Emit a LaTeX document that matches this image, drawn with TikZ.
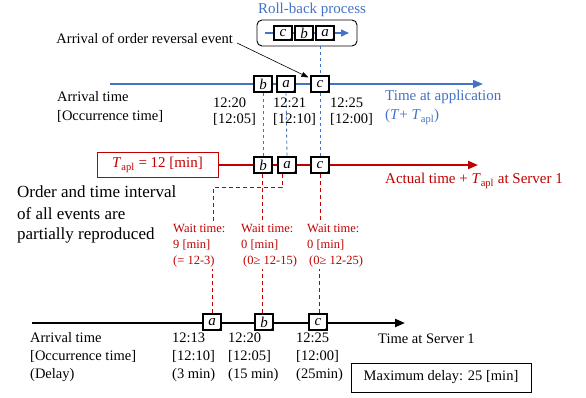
\documentclass[tikz,border=0pt]{standalone}
\usepackage{fontspec}
\setmainfont{Liberation Serif}
\usetikzlibrary{arrows.meta}
\definecolor{myblue}{RGB}{68,114,196}
\definecolor{myred}{RGB}{192,0,0}
\begin{document}
\begin{tikzpicture}[x=1pt,y=-1pt,
  evt/.style={draw, line width=1.1pt, fill=white, minimum width=18pt, minimum height=16pt, inner sep=0pt, font=\fontsize{15}{15}\selectfont\itshape},
  sevt/.style={evt, minimum height=14pt},
  lbl/.style={anchor=base west, inner sep=0pt, font=\fontsize{14.5}{17}\selectfont},
  wlbl/.style={anchor=base west, inner sep=0pt, font=\fontsize{12.5}{15}\selectfont, text=myred},
  bdash/.style={myblue, line width=0.9pt, dash pattern=on 3pt off 3pt},
  rdash/.style={myred, line width=0.9pt, dash pattern=on 4pt off 3pt},
  tip/.style={-{Triangle[length=10pt,width=8pt]}},
]
\useasboundingbox (0,0) rectangle (586,398);

% ---------- roll-back process ----------
\node[anchor=base, inner sep=0pt, font=\fontsize{15}{17}\selectfont, text=myblue] (rbt) at (312,14) {Roll-back process};
\node[draw, rounded corners=5pt, line width=0.9pt, minimum width=100pt, minimum height=26pt, inner sep=0pt] (rbox) at (307,33) {};
\coordinate (rbs) at (265,33);
\coordinate (rbe) at (349,33);
\draw[myblue, line width=1.5pt, -{Triangle[length=8pt,width=7pt]}] (rbs) -- (rbe);
\node[sevt] (rbc) at (283,33) {c};
\node[sevt] (rbb) at (304,33) {b};
\node[sevt] (rba) at (325,33) {a};

% ---------- blue line ----------
\coordinate (bs) at (110,84);
\coordinate (be) at (483,84);
\draw[myblue, line width=1.5pt, tip] (bs) -- (be);

% ---------- red line ----------
\node[draw=myred, line width=1pt, minimum width=121pt, minimum height=25pt, inner sep=0pt, text=myred, font=\fontsize{15}{17}\selectfont] (tbox) at (157.5,165) {\textit{T}\textsubscript{apl} = 12 [min]};
\coordinate (re) at (478,165);
\draw[myred, line width=2pt, tip] (tbox.east) -- (re);

% ---------- black line ----------
\coordinate (ks) at (32,323);
\coordinate (ke) at (405,323);
\draw[line width=2.2pt, tip] (ks) -- (ke);

% ---------- event boxes ----------
\node[evt] (bb) at (263,84) {b};
\node[evt] (ba) at (286,84) {a};
\node[evt] (bc) at (320,84) {c};
\node[evt] (rb) at (263,165) {b};
\node[evt] (ra) at (287,165) {a};
\node[evt] (rc) at (320,165) {c};
\node[evt] (ka) at (212,322) {a};
\node[evt] (kb) at (264,322) {b};
\node[evt] (kc) at (318,322) {c};

% blue dashed links
\draw[bdash] (bc |- rbox.south) -- (bc.north);
\draw[bdash] (bc.south) -- (rc.north);
\draw[bdash] (bb.south) -- (rb.north);
\draw[bdash] (ba.south) -- (ra.north);

% red dashed links
\coordinate (w1) at (213,222);
\draw[rdash] ([xshift=-5pt]ra.south) -- ++(0,14) -| (w1);
\draw[rdash] ([xshift=-1pt]rb.south) -- ++(0,49);
\draw[rdash] (rc.south) -- ++(0,49);
\draw[rdash] (ka.north) -- ++(0,-44);
\draw[rdash] ([xshift=-2pt]kb.north) -- ++(0,-44);
\draw[rdash] ([xshift=1pt]kc.north) -- ++(0,-44);

% folded corners
\foreach \n in {rbc,rbb,rba,bb,ba,bc,rb,ra,rc,ka,kb,kc}{
  \fill (\n.south east) -- ++(-4,0) -- ++(4,-4) -- cycle;
}

% leader
\node[anchor=base east, inner sep=0pt, font=\fontsize{14.5}{17}\selectfont] (arr) at (233,44) {Arrival of order reversal event};
\coordinate (ld) at (237,43);
\draw[line width=0.6pt, -{Triangle[length=7pt,width=5pt]}] (ld) -- ([shift={(-2pt,-2pt)}]bc.north west);

% ---------- blue labels ----------
\node[lbl] (l1) at (57,102) {Arrival time};
\node[lbl] (l2) at (57,121) {[Occurrence time]};
\node[lbl] (t1a) at (213,108) {12:20};
\node[lbl] (t1b) at (213,124) {[12:05]};
\node[lbl] (t2a) at (273,108) {12:21};
\node[lbl] (t2b) at (273,124) {[12:10]};
\node[lbl] (t3a) at (330,108) {12:25};
\node[lbl] (t3b) at (330,124) {[12:00]};
\node[lbl, text=myblue, font=\fontsize{15}{17}\selectfont] (ta1) at (385,101) {Time at application};
\node[lbl, text=myblue, font=\fontsize{15}{17}\selectfont] (ta2) at (385,120) {(\textit{T}+ \textit{T}\textsubscript{apl})};

% ---------- red labels ----------
\node[lbl, text=myred, font=\fontsize{15}{17}\selectfont] (at) at (385,184) {Actual time + \textit{T}\textsubscript{apl} at Server 1};
\node[lbl, font=\fontsize{17}{20}\selectfont] (o1) at (17,197) {Order and time interval};
\node[lbl, font=\fontsize{17}{20}\selectfont] (o2) at (17,219) {of all events are};
\node[lbl, font=\fontsize{17}{20}\selectfont] (o3) at (17,240) {partially reproduced};

\node[wlbl] (w11) at (173,233) {Wait time:};
\node[wlbl] (w12) at (173,248.5) {9 [min]};
\node[wlbl] (w13) at (173,264) {(= 12-3)};
\node[wlbl] (w21) at (241,233) {Wait time:};
\node[wlbl] (w22) at (241,248.5) {0 [min]};
\node[wlbl] (w23) at (243,264) {(0≥ 12-15)};
\node[wlbl] (w31) at (307,233) {Wait time:};
\node[wlbl] (w32) at (307,248.5) {0 [min]};
\node[wlbl] (w33) at (309,264) {(0≥ 12-25)};

% ---------- black labels ----------
\node[lbl] (k1) at (30,342) {Arrival time};
\node[lbl] (k2) at (30,360) {[Occurrence time]};
\node[lbl] (k3) at (30,378) {(Delay)};
\node[lbl] (s1a) at (172,342) {12:13};
\node[lbl] (s1b) at (172,360) {[12:10]};
\node[lbl] (s1c) at (172,378) {(3 min)};
\node[lbl] (s2a) at (228,342) {12:20};
\node[lbl] (s2b) at (228,360) {[12:05]};
\node[lbl] (s2c) at (228,378) {(15 min)};
\node[lbl] (s3a) at (296,342) {12:25};
\node[lbl] (s3b) at (296,360) {[12:00]};
\node[lbl] (s3c) at (296,378) {(25min)};
\node[lbl] (ts) at (378,343) {Time at Server 1};
\node[draw, line width=0.8pt, minimum width=180pt, minimum height=29pt, inner sep=0pt, font=\fontsize{14.5}{17}\selectfont] (mx) at (441,377.5) {Maximum delay: 25 [min]};
\end{tikzpicture}
\end{document}
